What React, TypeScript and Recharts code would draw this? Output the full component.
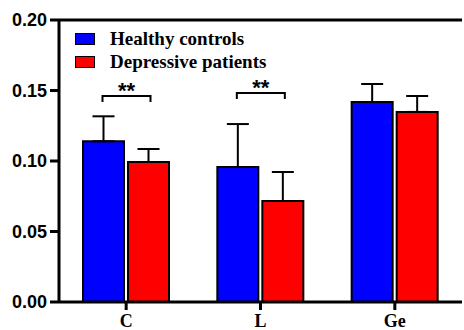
import React from "react";
import {
  BarChart,
  Bar,
  XAxis,
  YAxis,
  ErrorBar,
  Legend,
  ReferenceLine,
} from "recharts";

const categories = ["C", "L", "Ge"];
const seriesNames = ["Healthy controls", "Depressive patients"];
const seriesColors = ["#0000ff", "#ff0000"];
const healthy = [0.114, 0.0957, 0.1418];
const healthyErr = [0.0177, 0.0305, 0.0128];
const depressive = [0.0993, 0.0716, 0.1348];
const depressiveErr = [0.0092, 0.0206, 0.0113];
const significance = ["**", "**", ""];
const bracketLevel = [0.1461, 0.1482, 0];
const yTicks = [0, 0.05, 0.1, 0.15, 0.2];

const data = categories.map((name, i) => ({
  name,
  healthy: healthy[i],
  healthyErr: [0, healthyErr[i]],
  depressive: depressive[i],
  depressiveErr: [0, depressiveErr[i]],
}));

const SERIF = "'Liberation Serif', 'Times New Roman', serif";
const SANS = "'Liberation Sans', Arial, sans-serif";
const BAR_GAP = 4;

// bracket + asterisks drawn above each pair, hung off the blue bar's label
function Bracket(props: any) {
  const vb = props.viewBox ?? props;
  const index: number = props.index;
  const mark = significance[index];
  if (!mark || vb == null) return null;
  const { x, y, width, height } = vb;
  const base = y + height;
  const perUnit = height / healthy[index];
  const by = base - bracketLevel[index] * perUnit;
  const x1 = x + width / 2 - 1;
  const x2 = x + width + BAR_GAP + width / 2 + 2;
  return (
    <g>
      <path
        d={`M${x1},${by + 6}V${by}H${x2}V${by + 6}`}
        fill="none"
        stroke="#000"
        strokeWidth={2}
      />
      <text
        x={(x1 + x2) / 2}
        y={by + 2}
        textAnchor="middle"
        fontFamily={SANS}
        fontWeight="bold"
        fontSize={22}
        fill="#000"
      >
        {mark}
      </text>
    </g>
  );
}

// fixed order, same as the reference
function LegendBox() {
  return (
    <div>
      {seriesNames.map((name, i) => (
        <div
          key={name}
          style={{ display: "flex", alignItems: "center", height: 23 }}
        >
          <span
            style={{
              width: 18,
              height: 10,
              background: seriesColors[i],
              border: "1px solid #000",
              marginRight: 15,
            }}
          />
          <span
            style={{
              fontFamily: SERIF,
              fontWeight: "bold",
              fontSize: 19,
              color: "#000",
              whiteSpace: "nowrap",
            }}
          >
            {name}
          </span>
        </div>
      ))}
    </div>
  );
}

export default function App() {
  return (
    <div style={{ position: "absolute", left: 0, top: 0, background: "#fff" }}>
      <BarChart
        width={464}
        height={330}
        data={data}
        margin={{ top: 20, right: 2, bottom: 0, left: 0 }}
        barGap={BAR_GAP}
        barCategoryGap={24}
      >
        <XAxis
          dataKey="name"
          height={28}
          axisLine={{ stroke: "#000", strokeWidth: 3 }}
          tickLine={{ stroke: "#000", strokeWidth: 3 }}
          tickSize={8}
          tickMargin={4}
          tick={{ fontFamily: SERIF, fontWeight: "bold", fontSize: 18, fill: "#000" }}
        />
        <YAxis
          width={59}
          domain={[0, 0.2]}
          ticks={yTicks}
          tickFormatter={(v: number) => v.toFixed(2)}
          axisLine={{ stroke: "#000", strokeWidth: 3 }}
          tickLine={{ stroke: "#000", strokeWidth: 3 }}
          tickSize={9}
          tickMargin={3}
          tick={{ fontFamily: SANS, fontWeight: "bold", fontSize: 18, fill: "#000" }}
        />
        <YAxis
          yAxisId="r"
          orientation="right"
          width={0}
          domain={[0, 0.2]}
          tick={false}
          tickLine={false}
          axisLine={{ stroke: "#000", strokeWidth: 3 }}
        />
        <ReferenceLine y={0.2} stroke="#000" strokeWidth={3} />
        <Legend
          layout="vertical"
          align="center"
          verticalAlign="middle"
          content={<LegendBox />}
          wrapperStyle={{ top: 27, left: 75, width: "auto" }}
        />
        <Bar
          dataKey="healthy"
          name={seriesNames[0]}
          fill={seriesColors[0]}
          stroke="#000"
          strokeWidth={2}
          isAnimationActive={false}
          label={Bracket}
        >
          <ErrorBar dataKey="healthyErr" width={11} stroke="#000" strokeWidth={2} />
        </Bar>
        <Bar
          dataKey="depressive"
          name={seriesNames[1]}
          fill={seriesColors[1]}
          stroke="#000"
          strokeWidth={2}
          isAnimationActive={false}
        >
          <ErrorBar dataKey="depressiveErr" width={11} stroke="#000" strokeWidth={2} />
        </Bar>
      </BarChart>
    </div>
  );
}
